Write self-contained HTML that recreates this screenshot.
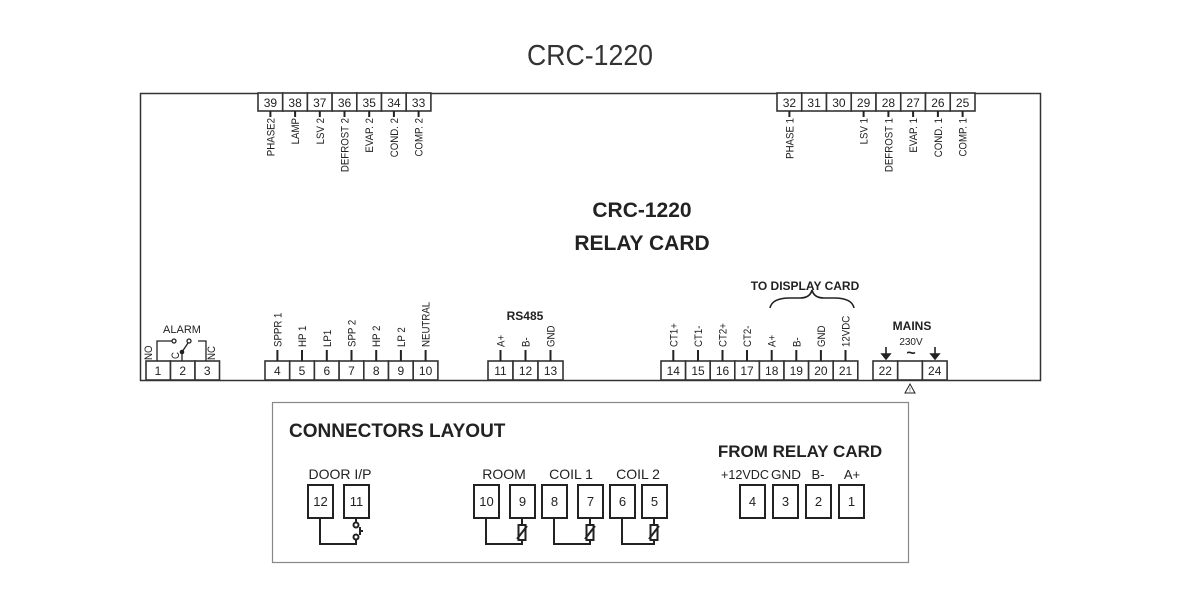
<!DOCTYPE html>
<html><head><meta charset="utf-8"><style>
html,body{margin:0;padding:0;background:#fff}
svg{display:block}
text{font-family:"Liberation Sans",sans-serif;fill:#222}
.n{font-size:12px;text-anchor:middle}
.l{font-size:11px}
.b{font-weight:bold}
</style></head><body>
<svg width="1181" height="591" viewBox="0 0 1181 591" xmlns="http://www.w3.org/2000/svg">
<text x="590" y="65" font-size="29" text-anchor="middle" style="fill:#333" transform="translate(590,0) scale(0.92,1) translate(-590,0)">CRC-1220</text>
<rect x="140.5" y="93.5" width="900" height="287" fill="none" stroke="#333" stroke-width="1.5"/>
<text x="642" y="217" font-size="21" class="b" text-anchor="middle">CRC-1220</text>
<text x="642" y="250" font-size="21" class="b" text-anchor="middle">RELAY CARD</text>

<g fill="#fff" stroke="#333" stroke-width="1.6">
<rect x="258" y="93" width="24.7" height="18"/><rect x="282.7" y="93" width="24.7" height="18"/><rect x="307.4" y="93" width="24.7" height="18"/><rect x="332.1" y="93" width="24.7" height="18"/><rect x="356.8" y="93" width="24.7" height="18"/><rect x="381.5" y="93" width="24.7" height="18"/><rect x="406.2" y="93" width="24.7" height="18"/>
<rect x="777" y="93" width="24.75" height="18"/><rect x="801.75" y="93" width="24.75" height="18"/><rect x="826.5" y="93" width="24.75" height="18"/><rect x="851.25" y="93" width="24.75" height="18"/><rect x="876" y="93" width="24.75" height="18"/><rect x="900.75" y="93" width="24.75" height="18"/><rect x="925.5" y="93" width="24.75" height="18"/><rect x="950.25" y="93" width="24.75" height="18"/>
<rect x="146" y="361" width="24.5" height="19"/><rect x="170.5" y="361" width="24.5" height="19"/><rect x="195" y="361" width="24.5" height="19"/>
<rect x="265" y="361" width="24.7" height="19"/><rect x="289.7" y="361" width="24.7" height="19"/><rect x="314.4" y="361" width="24.7" height="19"/><rect x="339.1" y="361" width="24.7" height="19"/><rect x="363.8" y="361" width="24.7" height="19"/><rect x="388.5" y="361" width="24.7" height="19"/><rect x="413.2" y="361" width="24.7" height="19"/>
<rect x="488" y="361" width="25" height="19"/><rect x="513" y="361" width="25" height="19"/><rect x="538" y="361" width="25" height="19"/>
<rect x="661" y="361" width="24.6" height="19"/><rect x="685.6" y="361" width="24.6" height="19"/><rect x="710.2" y="361" width="24.6" height="19"/><rect x="734.8" y="361" width="24.6" height="19"/><rect x="759.4" y="361" width="24.6" height="19"/><rect x="784" y="361" width="24.6" height="19"/><rect x="808.6" y="361" width="24.6" height="19"/><rect x="833.2" y="361" width="24.6" height="19"/>
<rect x="873" y="361" width="24.7" height="19"/><rect x="897.7" y="361" width="24.7" height="19"/><rect x="922.4" y="361" width="24.7" height="19"/>
</g>

<g class="n">
<text x="270.4" y="107">39</text><text x="295.1" y="107">38</text><text x="319.8" y="107">37</text><text x="344.5" y="107">36</text><text x="369.2" y="107">35</text><text x="393.9" y="107">34</text><text x="418.6" y="107">33</text>
<text x="789.4" y="107">32</text><text x="814.1" y="107">31</text><text x="838.9" y="107">30</text><text x="863.6" y="107">29</text><text x="888.4" y="107">28</text><text x="913.1" y="107">27</text><text x="937.9" y="107">26</text><text x="962.6" y="107">25</text>
<text x="158" y="375">1</text><text x="182.7" y="375">2</text><text x="207.2" y="375">3</text>
<text x="277.4" y="375">4</text><text x="302" y="375">5</text><text x="326.8" y="375">6</text><text x="351.5" y="375">7</text><text x="376.2" y="375">8</text><text x="400.9" y="375">9</text><text x="425.6" y="375">10</text>
<text x="500.5" y="375">11</text><text x="525.5" y="375">12</text><text x="550.5" y="375">13</text>
<text x="673.3" y="375">14</text><text x="698" y="375">15</text><text x="722.5" y="375">16</text><text x="747" y="375">17</text><text x="771.7" y="375">18</text><text x="796.3" y="375">19</text><text x="820.9" y="375">20</text><text x="845.5" y="375">21</text>
<text x="885.3" y="375">22</text><text x="934.7" y="375">24</text>
</g>

<g stroke="#222" stroke-width="2">
<path d="M270.4 111V117M295.1 111V117M319.8 111V117M344.5 111V117M369.2 111V117M393.9 111V117M418.6 111V117"/>
<path d="M789.4 111V117M863.6 111V117M888.4 111V117M913.1 111V117M937.9 111V117M962.6 111V117"/>
<path d="M277.4 350V361M302 350V361M326.8 350V361M351.5 350V361M376.2 350V361M400.9 350V361M425.6 350V361"/>
<path d="M500.5 350V361M525.5 350V361M550.5 350V361"/>
<path d="M673.3 350V361M698 350V361M722.5 350V361M747 350V361M771.7 350V361M796.3 350V361M820.9 350V361M845.5 350V361"/>
</g>

<g class="l" text-anchor="end">
<text transform="translate(274.4,118) rotate(-90) scale(0.88,1)">PHASE2</text>
<text transform="translate(299.1,118) rotate(-90) scale(0.88,1)">LAMP</text>
<text transform="translate(323.8,118) rotate(-90) scale(0.88,1)">LSV 2</text>
<text transform="translate(348.5,118) rotate(-90) scale(0.88,1)">DEFROST 2</text>
<text transform="translate(373.2,118) rotate(-90) scale(0.88,1)">EVAP. 2</text>
<text transform="translate(397.9,118) rotate(-90) scale(0.88,1)">COND. 2</text>
<text transform="translate(422.6,118) rotate(-90) scale(0.88,1)">COMP. 2</text>
<text transform="translate(793.4,118) rotate(-90) scale(0.88,1)">PHASE 1</text>
<text transform="translate(867.6,118) rotate(-90) scale(0.88,1)">LSV 1</text>
<text transform="translate(892.4,118) rotate(-90) scale(0.88,1)">DEFROST 1</text>
<text transform="translate(917.1,118) rotate(-90) scale(0.88,1)">EVAP. 1</text>
<text transform="translate(941.9,118) rotate(-90) scale(0.88,1)">COND. 1</text>
<text transform="translate(966.6,118) rotate(-90) scale(0.88,1)">COMP. 1</text>
</g>
<g class="l">
<text transform="translate(281.4,347) rotate(-90) scale(0.88,1)">SPPR 1</text>
<text transform="translate(306,347) rotate(-90) scale(0.88,1)">HP 1</text>
<text transform="translate(330.8,347) rotate(-90) scale(0.88,1)">LP1</text>
<text transform="translate(355.5,347) rotate(-90) scale(0.88,1)">SPP 2</text>
<text transform="translate(380.2,347) rotate(-90) scale(0.88,1)">HP 2</text>
<text transform="translate(404.9,347) rotate(-90) scale(0.88,1)">LP 2</text>
<text transform="translate(429.6,347) rotate(-90) scale(0.88,1)">NEUTRAL</text>
<text transform="translate(504.5,347) rotate(-90) scale(0.88,1)">A+</text>
<text transform="translate(529.5,347) rotate(-90) scale(0.88,1)">B-</text>
<text transform="translate(554.5,347) rotate(-90) scale(0.88,1)">GND</text>
<text transform="translate(677.3,347) rotate(-90) scale(0.88,1)">CT1+</text>
<text transform="translate(702,347) rotate(-90) scale(0.88,1)">CT1-</text>
<text transform="translate(726.5,347) rotate(-90) scale(0.88,1)">CT2+</text>
<text transform="translate(751,347) rotate(-90) scale(0.88,1)">CT2-</text>
<text transform="translate(775.7,347) rotate(-90) scale(0.88,1)">A+</text>
<text transform="translate(800.3,347) rotate(-90) scale(0.88,1)">B-</text>
<text transform="translate(824.9,347) rotate(-90) scale(0.88,1)">GND</text>
<text transform="translate(849.5,347) rotate(-90) scale(0.88,1)">12VDC</text>
<text transform="translate(152,360) rotate(-90) scale(0.88,1)">NO</text>
<text transform="translate(179,359) rotate(-90) scale(0.88,1)">C</text>
<text transform="translate(215,360) rotate(-90) scale(0.88,1)">NC</text>
</g>
<text x="182" y="333" class="l" text-anchor="middle">ALARM</text>
<g stroke="#222" stroke-width="1.3" fill="none">
<path d="M157 361V341H172M198 341H206V361"/>
<circle cx="174" cy="341" r="2" fill="#fff"/>
<circle cx="189" cy="341" r="2" fill="#fff"/>
<path d="M182 361V352L188 343"/>
</g>
<circle cx="182" cy="352" r="2.3" fill="#222"/>

<text x="525" y="320" font-size="12" class="b" text-anchor="middle">RS485</text>
<text x="805" y="290" font-size="12" class="b" text-anchor="middle">TO DISPLAY CARD</text>
<path d="M770 308 Q772 298 790 298 L800 298 Q810 298 812 290 Q814 298 824 298 L834 298 Q852 298 854 308" fill="none" stroke="#222" stroke-width="1.6"/>
<text x="912" y="330" font-size="12" class="b" text-anchor="middle">MAINS</text>
<text x="911" y="345" font-size="10" text-anchor="middle">230V</text>
<text x="911" y="358" font-size="16" class="b" text-anchor="middle">~</text>
<g stroke="#222" stroke-width="1.6" fill="#222">
<path d="M886 347V356"/><path d="M882 354L886 359L890 354Z"/>
<path d="M935 347V356"/><path d="M931 354L935 359L939 354Z"/>
</g>
<path d="M910 384L905 393H915Z" fill="none" stroke="#222" stroke-width="1"/>
<text x="910" y="392" font-size="6" text-anchor="middle">!</text>

<rect x="272.5" y="402.5" width="636" height="160" fill="none" stroke="#888" stroke-width="1.2"/>
<text x="289" y="437" font-size="19" class="b">CONNECTORS LAYOUT</text>
<text x="800" y="457" font-size="17" class="b" text-anchor="middle">FROM RELAY CARD</text>
<g font-size="14" text-anchor="middle">
<text x="340" y="479">DOOR I/P</text>
<text x="504" y="479">ROOM</text>
<text x="571" y="479">COIL 1</text>
<text x="638" y="479">COIL 2</text>
</g>
<g font-size="13" text-anchor="middle">
<text x="745" y="479" textLength="48" lengthAdjust="spacingAndGlyphs">+12VDC</text><text x="786" y="479" textLength="30" lengthAdjust="spacingAndGlyphs">GND</text><text x="818" y="479">B-</text><text x="852" y="479">A+</text>
</g>
<g fill="#fff" stroke="#222" stroke-width="2">
<rect x="308" y="485" width="25" height="33"/><rect x="344" y="485" width="25" height="33"/>
<rect x="474" y="485" width="25" height="33"/><rect x="510" y="485" width="25" height="33"/>
<rect x="542" y="485" width="25" height="33"/><rect x="578" y="485" width="25" height="33"/>
<rect x="610" y="485" width="25" height="33"/><rect x="642" y="485" width="25" height="33"/>
<rect x="740" y="485" width="25" height="33"/><rect x="773" y="485" width="25" height="33"/>
<rect x="806" y="485" width="25" height="33"/><rect x="839" y="485" width="25" height="33"/>
</g>
<g class="n" style="font-size:13px">
<text x="320.5" y="506">12</text><text x="356.5" y="506">11</text>
<text x="486.5" y="506">10</text><text x="522.5" y="506">9</text>
<text x="554.5" y="506">8</text><text x="590.5" y="506">7</text>
<text x="622.5" y="506">6</text><text x="654.5" y="506">5</text>
<text x="752.5" y="506">4</text><text x="785.5" y="506">3</text>
<text x="818.5" y="506">2</text><text x="851.5" y="506">1</text>
</g>
<g stroke="#222" stroke-width="2" fill="none">
<path d="M320 518V544H356V540"/>
<path d="M356 518V522"/>
<circle cx="356" cy="525" r="2.5" fill="#fff"/><circle cx="356" cy="537" r="2.5" fill="#fff"/>
<path d="M360 527V535M360 531H363"/>
<path d="M486 518V544H522V518"/><rect x="518.5" y="525" width="7" height="15" fill="#fff"/><path d="M517 539L527 526"/>
<path d="M554 518V544H590V518"/><rect x="586.5" y="525" width="7" height="15" fill="#fff"/><path d="M585 539L595 526"/>
<path d="M622 518V544H654V518"/><rect x="650.5" y="525" width="7" height="15" fill="#fff"/><path d="M649 539L659 526"/>
</g>
</svg>
</body></html>
